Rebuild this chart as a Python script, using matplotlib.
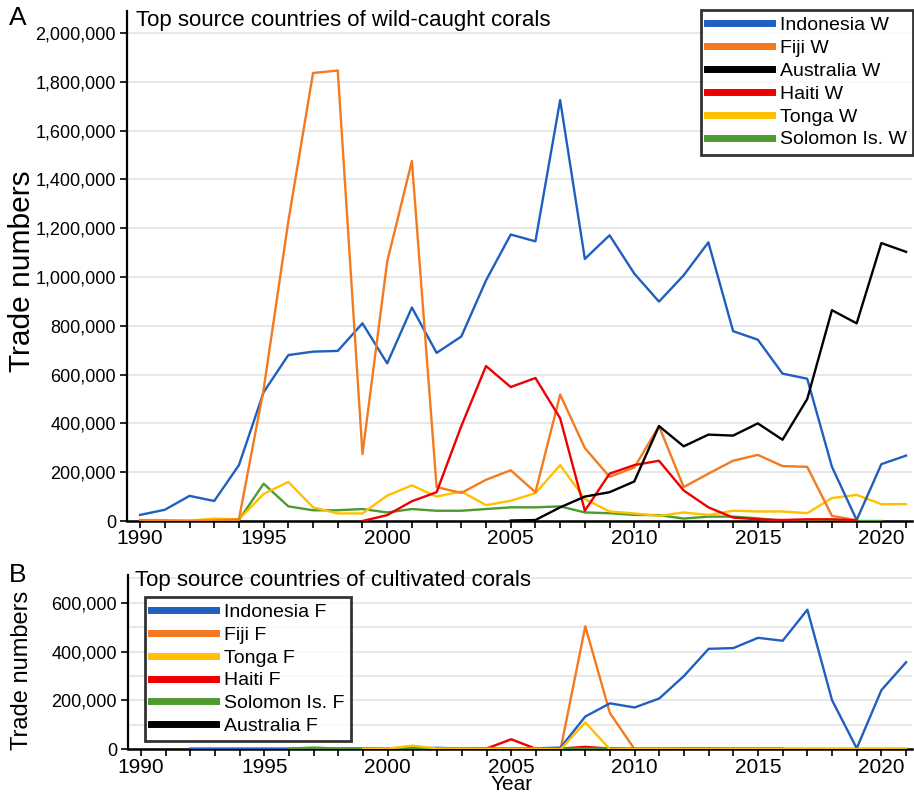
import matplotlib
matplotlib.use("Agg")
import matplotlib.pyplot as plt
import numpy as np
from matplotlib.ticker import FuncFormatter, MultipleLocator

plt.rcParams['font.family'] = ['Liberation Sans', 'DejaVu Sans']

# ---------------- Wild-caught corals (panel A) ----------------
years_indo_w = list(range(1990, 2022))
indonesia_w = [25000, 46000, 103000, 82000, 229000, 528000, 680000, 694000, 697000, 810000,
               646000, 875000, 689000, 756000, 986000, 1174000, 1146000, 1725000, 1074000, 1171000,
               1014000, 899000, 1007000, 1142000, 778000, 743000, 604000, 583000, 222000, 4000,
               233000, 268000]

years_fiji_w = list(range(1990, 2020))
fiji_w = [3000, 2000, 1000, 2000, 7000, 540000, 1229000, 1836000, 1846000, 274000,
          1063000, 1475000, 139000, 115000, 169000, 208000, 118000, 518000, 299000, 181000,
          219000, 389000, 139000, 194000, 247000, 271000, 225000, 222000, 21000, 3000]

years_aus_w = list(range(2005, 2022))
australia_w = [2000, 4000, 56000, 100000, 118000, 162000, 389000, 306000, 354000, 350000,
               400000, 333000, 500000, 864000, 810000, 1139000, 1103000]

years_haiti_w = list(range(1999, 2020))
haiti_w = [0, 24000, 81000, 118000, 389000, 635000, 549000, 586000, 421000, 42000,
           194000, 229000, 247000, 125000, 56000, 14000, 7000, 4000, 7000, 7000, 3000]

years_tonga_w = list(range(1990, 2022))
tonga_w = [4000, 4000, 1000, 10000, 7000, 111000, 160000, 56000, 31000, 31000,
           104000, 146000, 100000, 121000, 65000, 83000, 114000, 229000, 90000, 39000,
           31000, 21000, 35000, 25000, 42000, 39000, 39000, 32000, 94000, 107000,
           69000, 69000]

years_solomon_w = list(range(1992, 2021))
solomon_w = [0, 3000, 4000, 153000, 60000, 44000, 44000, 49000, 35000, 49000,
             42000, 42000, 49000, 56000, 56000, 60000, 35000, 32000, 25000, 24000,
             10000, 18000, 18000, 11000, 0, 0, 0, 0, 0]

# ---------------- Cultivated corals (panel B) ----------------
years_indo_f = list(range(1992, 2022))
indonesia_f = [3000, 3000, 3000, 3000, 3000, 3000, 3000, 3000, 3000, 4000,
               6000, 3000, 3000, 3000, 4000, 7000, 134000, 188000, 171000, 208000,
               300000, 411000, 414000, 456000, 444000, 571000, 201000, 4000, 242000, 356000]

years_fiji_f = list(range(2000, 2011))
fiji_f = [2000, 8000, 2000, 1000, 1000, 1000, 1000, 0, 503000, 148000, 0]

years_tonga_f = list(range(1999, 2022))
tonga_f = [2000, 3000, 15000, 3000, 2000, 2000, 2000, 2000, 0, 110000, 0,
           1000, 1000, 1000, 1000, 1000, 1000, 1000, 1000, 1000, 1000, 1000, 1000]

years_haiti_f = list(range(2003, 2011))
haiti_f = [2000, 3000, 41000, 2000, 3000, 10000, 3000, 0]

years_solomon_f = list(range(1996, 2017))
solomon_f = [3000, 7000, 3000, 3000, 3000, 3000, 3000, 3000, 3000, 3000,
             3000, 3000, 3000, 3000, 3000, 3000, 4000, 4000, 3000, 3000, 3000]

years_aus_f = list(range(2008, 2022))
australia_f = [0] * len(years_aus_f)

BLUE = '#1F5FBF'
ORANGE = '#F47A1F'
BLACK = '#000000'
RED = '#EE0000'
YELLOW = '#FFC000'
GREEN = '#4E9A2E'

fig = plt.figure(figsize=(9.14, 7.95), dpi=100)

thousands = FuncFormatter(lambda v, p: f"{int(round(v)):,}")


def style_axes(ax, ymax, ymajor, yminor):
    ax.set_xlim(1989.47, 2021.24)
    ax.set_ylim(0, ymax)
    for s in ('top', 'right'):
        ax.spines[s].set_visible(False)
    ax.spines['left'].set_linewidth(1.6)
    ax.spines['bottom'].set_linewidth(1.8)
    ax.xaxis.set_major_locator(MultipleLocator(5))
    ax.xaxis.set_minor_locator(MultipleLocator(1))
    ax.yaxis.set_major_locator(MultipleLocator(ymajor))
    ax.yaxis.set_minor_locator(MultipleLocator(yminor))
    ax.yaxis.set_major_formatter(thousands)
    ax.tick_params(axis='x', which='both', direction='out', length=5, width=1.2,
                   labelsize=15, pad=1)
    ax.tick_params(axis='y', which='major', direction='out', length=5, width=1.2,
                   labelsize=13, pad=3)
    ax.tick_params(axis='y', which='minor', length=0)
    ax.grid(axis='y', which='both', color='#E4E4E4', linewidth=1.2)
    ax.set_axisbelow(True)


def style_legend(leg):
    leg.get_frame().set_linewidth(2.0)
    for line in leg.get_lines():
        line.set_linewidth(5)


legend_kw = dict(fontsize=14, frameon=True, fancybox=False, edgecolor='black',
                 borderaxespad=0, handlelength=3.35, handletextpad=0.4,
                 labelspacing=0.27, borderpad=0.32)

# ---- Panel A ----
axA = fig.add_axes([127 / 914, 1 - 521 / 795, 785 / 914, 510 / 795])
style_axes(axA, 2.09e6, 200000, 200000)
lw = 1.7
axA.plot(years_solomon_w, solomon_w, color=GREEN, lw=lw, label='Solomon Is. W', zorder=3)
axA.plot(years_tonga_w, tonga_w, color=YELLOW, lw=lw, label='Tonga W', zorder=4)
axA.plot(years_indo_w, indonesia_w, color=BLUE, lw=lw, label='Indonesia W', zorder=5)
axA.plot(years_fiji_w, fiji_w, color=ORANGE, lw=lw, label='Fiji W', zorder=6)
axA.plot(years_haiti_w, haiti_w, color=RED, lw=lw, label='Haiti W', zorder=7)
axA.plot(years_aus_w, australia_w, color=BLACK, lw=lw, label='Australia W', zorder=8)
axA.text(0.012, 0.982, 'Top source countries of wild-caught corals', transform=axA.transAxes,
         fontsize=16, va='center', ha='left')
axA.set_ylabel('Trade numbers', fontsize=21.5)
axA.yaxis.set_label_coords(-0.134, 0.49)
axA.yaxis.label.set_va('center')

order_a = ['Indonesia W', 'Fiji W', 'Australia W', 'Haiti W', 'Tonga W', 'Solomon Is. W']
h, l = axA.get_legend_handles_labels()
hmap = dict(zip(l, h))
legA = axA.legend([hmap[k] for k in order_a], order_a, loc='upper right',
                  bbox_to_anchor=(1.0015, 1.0015), **legend_kw)
style_legend(legA)

# ---- Panel B ----
axB = fig.add_axes([128 / 914, 1 - 749.3 / 795, 784 / 914, 174.3 / 795])
style_axes(axB, 713000, 200000, 100000)
axB.plot(years_aus_f, australia_f, color=BLACK, lw=lw, label='Australia F', zorder=2)
axB.plot(years_solomon_f, solomon_f, color=GREEN, lw=lw, label='Solomon Is. F', zorder=6)
axB.plot(years_haiti_f, haiti_f, color=RED, lw=lw, label='Haiti F', zorder=4)
axB.plot(years_fiji_f, fiji_f, color=ORANGE, lw=lw, label='Fiji F', zorder=3)
axB.plot(years_indo_f, indonesia_f, color=BLUE, lw=lw, label='Indonesia F', zorder=5)
axB.plot(years_tonga_f, tonga_f, color=YELLOW, lw=lw, label='Tonga F', zorder=7)
axB.text(0.009, 0.971, 'Top source countries of cultivated corals', transform=axB.transAxes,
         fontsize=16, va='center', ha='left')
axB.set_ylabel('Trade numbers', fontsize=17)
axB.yaxis.set_label_coords(-0.135, 0.45)
axB.yaxis.label.set_va('center')
axB.set_xlabel('Year', fontsize=15)
axB.xaxis.set_label_coords(0.489, -0.258)
axB.xaxis.label.set_va('bottom')

order_b = ['Indonesia F', 'Fiji F', 'Tonga F', 'Haiti F', 'Solomon Is. F', 'Australia F']
h, l = axB.get_legend_handles_labels()
hmap = dict(zip(l, h))
legB = axB.legend([hmap[k] for k in order_b], order_b, loc='upper left',
                  bbox_to_anchor=(0.0217, 0.874), **legend_kw)
style_legend(legB)

fig.text(18 / 914, 1 - 18 / 795, 'A', fontsize=19, ha='center', va='center')
fig.text(18 / 914, 1 - 575 / 795, 'B', fontsize=19, ha='center', va='center')

fig.savefig('out.png', dpi=100)
